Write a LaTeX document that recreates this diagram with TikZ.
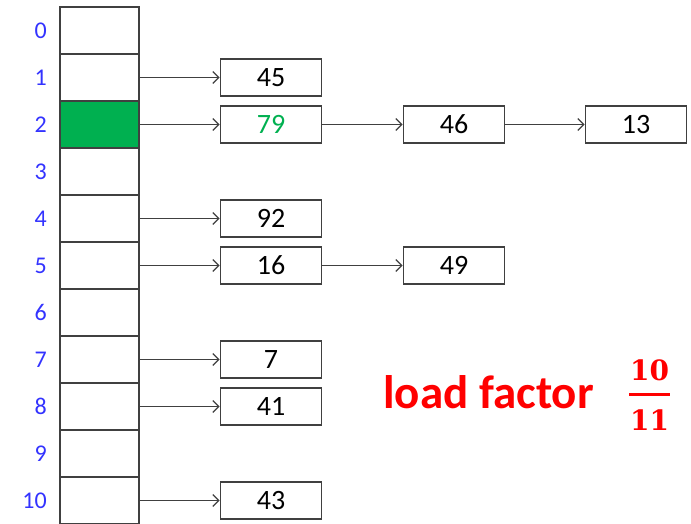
\documentclass[tikz,border=0pt]{standalone}
\usepackage{fontspec}
\setmainfont{Carlito}
\newfontfamily\fracfont{DejaVu Serif}
\usetikzlibrary{arrows.meta}

\definecolor{slotgreen}{HTML}{00B050}
\definecolor{idxblue}{HTML}{3333FF}
\definecolor{linegray}{HTML}{404040}

\begin{document}
\begin{tikzpicture}[x=1pt,y=-1pt,
  cell/.style={draw=linegray, line width=1.6pt, minimum width=79pt, minimum height=47pt, inner sep=0pt},
  entry/.style={draw=linegray, line width=1.6pt, minimum width=101pt, minimum height=37pt, inner sep=0pt,
    font=\fontsize{28}{30}\selectfont},
  link/.style={draw=linegray, line width=1.3pt, -{Straight Barb[length=6pt,width=12pt]}}]
  \useasboundingbox (0,0) rectangle (691,524);

  % the table slots and their indices
  \foreach \i in {0,...,10} {
    \node[cell] (s\i) at (99.5,30.5+47*\i) {};
    \node[anchor=east, inner sep=0pt, text=idxblue, font=\fontsize{24}{26}\selectfont] (i\i) at (47,30.5+47*\i) {\i};
  }
  \node[cell, fill=slotgreen] (s2) at (99.5,124.5) {};

  % chained entries
  \node[entry] (e45) at (271,77.5) {45};
  \node[entry, text=slotgreen] (e79) at (271,124.5) {79};
  \node[entry] (e46) at (454,124.5) {46};
  \node[entry] (e13) at (636,124.5) {13};
  \node[entry] (e92) at (271,218.5) {92};
  \node[entry] (e16) at (271,265.5) {16};
  \node[entry] (e49) at (454,265.5) {49};
  \node[entry] (e7) at (271,359.5) {7};
  \node[entry] (e41) at (271,406.5) {41};
  \node[entry] (e43) at (271,500.5) {43};

  \draw[link] (s1.east) -- (e45.west);
  \draw[link] (s2.east) -- (e79.west);
  \draw[link] (e79.east) -- (e46.west);
  \draw[link] (e46.east) -- (e13.west);
  \draw[link] (s4.east) -- (e92.west);
  \draw[link] (s5.east) -- (e16.west);
  \draw[link] (e16.east) -- (e49.west);
  \draw[link] (s7.east) -- (e7.west);
  \draw[link] (s8.east) -- (e41.west);
  \draw[link] (s10.east) -- (e43.west);

  % load factor
  \node[anchor=base west, inner sep=0pt, text=red, font=\fontsize{47}{51}\selectfont\bfseries] (lf) at (383,408) {load factor};
  \node[inner sep=0pt, text=red, font=\fontsize{28}{30}\selectfont\fracfont\bfseries] (num) at (649.5,370) {10};
  \node[inner sep=0pt, text=red, font=\fontsize{28}{30}\selectfont\fracfont\bfseries] (den) at (649.5,420) {11};
  \draw[red, line width=3pt] (629,394) -- (670,394);
\end{tikzpicture}
\end{document}
